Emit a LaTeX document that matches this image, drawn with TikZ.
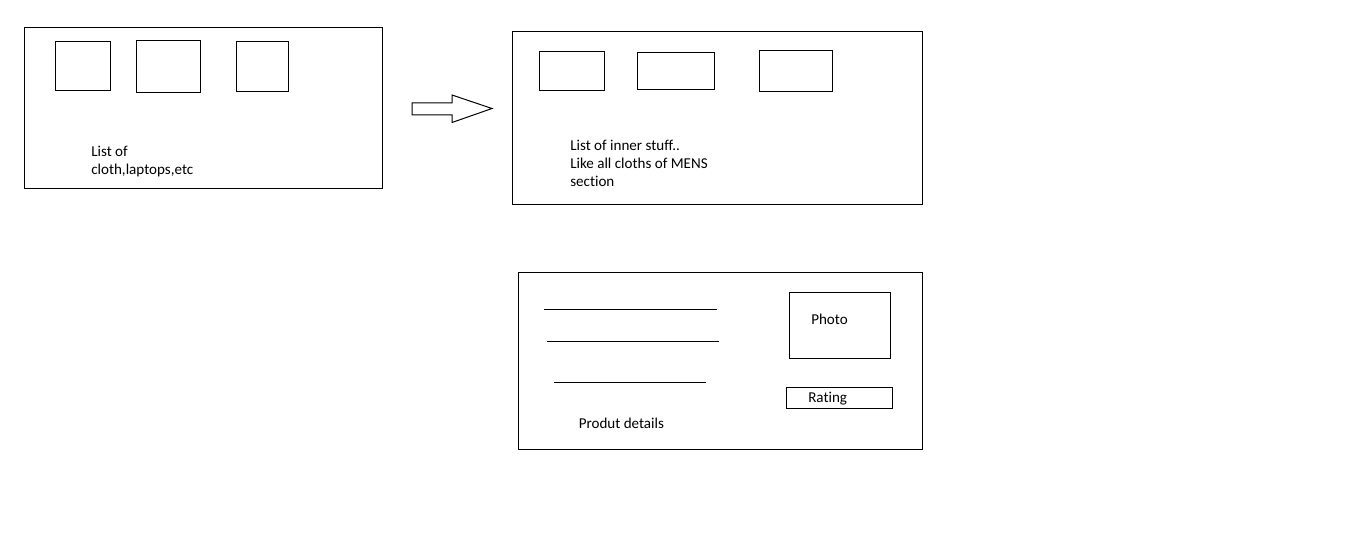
\documentclass[tikz,border=0pt]{standalone}
\usepackage{fontspec}
\setmainfont{Carlito}[Ligatures={NoCommon,NoRare}]
\usetikzlibrary{fit}
\begin{document}
\begin{tikzpicture}[x=0.75pt,y=-0.75pt,
  box/.style={draw=black,line width=0.75pt,inner sep=0pt},
  lbl/.style={anchor=base west,inner sep=0pt,align=left,font=\fontsize{11.3pt}{13.5pt}\selectfont},
  rule/.style={draw=black,line width=0.75pt}]
\useasboundingbox (0,0) rectangle (1360,559);
% first screen
\node[box,fit={(24,27.5) (382,189)}] (scr1) {};
\node[box,fit={(55,41.5) (110,91)}] (s1a) {};
\node[box,fit={(136,40.5) (200,93)}] (s1b) {};
\node[box,fit={(236,41.5) (288,92)}] (s1c) {};
\node[lbl] (t1) at (91,174.5) {List of\\cloth,laptops,etc};
% block arrow
\draw[line width=0.75pt] (412,103) -- (452,103) -- (452,95) -- (492,108.5) -- (452,122.5) -- (452,115) -- (412,115) -- cycle;
% second screen
\node[box,fit={(512,31.5) (922,205)}] (scr2) {};
\node[box,fit={(539,51.5) (604,91)}] (s2a) {};
\node[box,fit={(637,52.5) (714,90)}] (s2b) {};
\node[box,fit={(759,50.5) (832,92)}] (s2c) {};
\node[lbl] (t2) at (570,186.5) {List of inner stuff..\\Like all cloths of MENS\\section};
% third screen
\node[box,fit={(518,272.5) (922,449)}] (scr3) {};
\coordinate (l1a) at (544,310); \coordinate (l1b) at (717,310);
\coordinate (l2a) at (547,342); \coordinate (l2b) at (719,342);
\coordinate (l3a) at (554,383); \coordinate (l3b) at (706,383);
\draw[rule] (l1a) -- (l1b);
\draw[rule] (l2a) -- (l2b);
\draw[rule] (l3a) -- (l3b);
\node[box,fit={(789,292.5) (890,359)}] (photo) {};
\node[lbl] (tp) at (811,325) {Photo};
\node[box,fit={(786,387.5) (892,409)}] (rating) {};
\node[lbl] (tr) at (808,403) {Rating};
\node[lbl] (td) at (578.5,428) {Produt details};
\end{tikzpicture}
\end{document}
